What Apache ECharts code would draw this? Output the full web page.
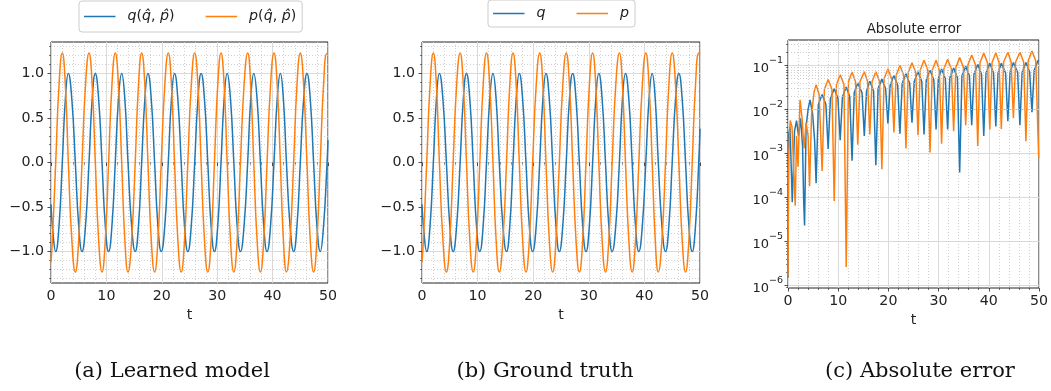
<!DOCTYPE html>
<html><head><meta charset="utf-8">
<script src="https://cdn.jsdelivr.net/npm/echarts@6/dist/echarts.min.js"></script>
<style>html,body{margin:0;padding:0;background:#fff}#c{width:1051px;height:391px}</style>
</head><body><div id="c"></div>
<script>
// ---- data ----
const t = [0, 0.25, 0.85, 1.45, 2.04, 2.59, 3.13, 3.76, 4.39, 5.0, 5.6, 6.23, 6.86, 7.43, 8.0, 8.6, 9.21, 9.8, 10.4, 11.0, 11.6, 12.18, 12.76, 13.33, 13.9, 14.55, 15.2, 15.79, 16.37, 16.94, 17.5, 18.1, 18.7, 19.3, 19.9, 20.54, 21.17, 21.74, 22.3, 22.9, 23.5, 24.1, 24.7, 25.32, 25.94, 26.52, 27.1, 27.7, 28.3, 28.9, 29.5, 30.1, 30.69, 31.25, 31.8, 32.4, 33.0, 33.6, 34.2, 34.85, 35.5, 36.05, 36.6, 37.2, 37.8, 38.4, 39.0, 39.63, 40.25, 40.83, 41.4, 41.95, 42.5, 43.15, 43.8, 44.4, 45.0, 45.6, 46.2, 46.8, 47.4, 48.0, 48.6, 49.19, 49.77, 50];

const qTrue = [-0.47, -0.71,
  -1, -0.71, 0, 0.71, 1, 0.71, 0, -0.71,
  -1, -0.71, 0, 0.71, 1, 0.71, 0, -0.71,
  -1, -0.71, 0, 0.71, 1, 0.71, 0, -0.71,
  -1, -0.71, 0, 0.71, 1, 0.71, 0, -0.71,
  -1, -0.71, 0, 0.71, 1, 0.71, 0, -0.71,
  -1, -0.71, 0, 0.71, 1, 0.71, 0, -0.71,
  -1, -0.71, 0, 0.71, 1, 0.71, 0, -0.71,
  -1, -0.71, 0, 0.71, 1, 0.71, 0, -0.71,
  -1, -0.71, 0, 0.71, 1, 0.71, 0, -0.71,
  -1, -0.71, 0, 0.71, 1, 0.71, 0, -0.71,
  -1, -0.71, 0, 0.38];
const pTrue = [-1.12, -0.87,
  0, 0.87, 1.23, 0.87, 0, -0.87, -1.23, -0.87,
  0, 0.87, 1.23, 0.87, 0, -0.87, -1.23, -0.87,
  0, 0.87, 1.23, 0.87, 0, -0.87, -1.23, -0.87,
  0, 0.87, 1.23, 0.87, 0, -0.87, -1.23, -0.87,
  0, 0.87, 1.23, 0.87, 0, -0.87, -1.23, -0.87,
  0, 0.87, 1.23, 0.87, 0, -0.87, -1.23, -0.87,
  0, 0.87, 1.23, 0.87, 0, -0.87, -1.23, -0.87,
  0, 0.87, 1.23, 0.87, 0, -0.87, -1.23, -0.87,
  0, 0.87, 1.23, 0.87, 0, -0.87, -1.23, -0.87,
  0, 0.87, 1.23, 0.87, 0, -0.87, -1.23, -0.87,
  0, 0.87, 1.23, 1.21];
const qLearned = [-0.47, -0.71,
  -1, -0.71, 0, 0.71, 1, 0.71, 0, -0.71,
  -1, -0.71, 0, 0.71, 1, 0.71, 0, -0.71,
  -1, -0.71, 0, 0.71, 1, 0.71, 0, -0.71,
  -1, -0.71, 0, 0.71, 1, 0.71, 0, -0.71,
  -1, -0.71, 0, 0.71, 1, 0.71, 0, -0.71,
  -1, -0.71, 0, 0.71, 1, 0.71, 0, -0.71,
  -1, -0.71, 0, 0.71, 1, 0.71, 0, -0.71,
  -1, -0.71, 0, 0.71, 1, 0.71, 0, -0.71,
  -1, -0.71, 0, 0.71, 1, 0.71, 0, -0.71,
  -1, -0.71, 0, 0.71, 1, 0.71, 0, -0.71,
  -1, -0.72, -0.08, 0.25];
const pLearned = [-1.12, -0.87,
  0, 0.87, 1.23, 0.87, 0, -0.87, -1.23, -0.87,
  0, 0.87, 1.23, 0.87, 0, -0.87, -1.23, -0.87,
  0, 0.87, 1.23, 0.87, 0, -0.87, -1.23, -0.87,
  0, 0.87, 1.23, 0.87, 0, -0.87, -1.23, -0.87,
  0, 0.87, 1.23, 0.87, 0, -0.87, -1.23, -0.87,
  0, 0.87, 1.23, 0.87, 0, -0.87, -1.23, -0.87,
  0, 0.87, 1.23, 0.87, 0, -0.87, -1.23, -0.87,
  0, 0.87, 1.23, 0.87, 0, -0.87, -1.23, -0.87,
  0, 0.87, 1.23, 0.87, 0, -0.87, -1.23, -0.87,
  0, 0.87, 1.23, 0.87, 0, -0.87, -1.23, -0.87,
  0, 0.86, 1.22, 1.22];

const errQ = [[0,1.5e-6],[0.1,2.5e-3],[0.4,4e-3],[0.85,7.8e-5],[1.3,3.2e-3],[1.7,5.6e-3],[2.1,2.5e-3],[2.5,6.3e-3],[2.9,1.5e-3],[3.13,7.8e-5],[3.3,2.3e-5],[3.6,4e-3],[4.0,1e-2],[4.4,1.66e-2],[4.9,8e-3],[5.3,2e-3],[5.6,2.1e-4],[6.05,1.3e-2],[6.8,2.19e-2],[7.55,1.3e-2],[8.0,1.26e-3],[8.45,1.77e-2],[9.21,2.95e-2],[9.95,1.77e-2],[10.4,2.0e-3],[10.85,1.94e-2],[11.6,3.24e-2],[12.3,1.94e-2],[12.76,6.8e-4],[13.2,2.39e-2],[13.9,3.98e-2],[14.75,2.39e-2],[15.2,2.5e-3],[15.65,2.62e-2],[16.3,4.37e-2],[17.05,2.62e-2],[17.5,5.4e-4],[17.95,2.94e-2],[18.7,4.9e-2],[19.45,2.94e-2],[19.9,4.8e-3],[20.35,3.53e-2],[21.1,5.89e-2],[21.85,3.53e-2],[22.3,2.8e-3],[22.75,3.88e-2],[23.5,6.46e-2],[24.25,3.88e-2],[24.7,5.0e-3],[25.15,4.34e-2],[25.9,7.24e-2],[26.65,4.34e-2],[27.1,2.7e-3],[27.55,4.66e-2],[28.3,7.76e-2],[29.05,4.66e-2],[29.5,3.5e-3],[29.95,5.0e-2],[30.6,8.32e-2],[31.35,5.0e-2],[31.8,3.5e-3],[32.25,5.23e-2],[33.0,8.71e-2],[33.75,5.23e-2],[34.2,3.7e-4],[34.65,5.73e-2],[35.4,9.55e-2],[36.15,5.73e-2],[36.6,4.4e-3],[37.05,6.3e-2],[37.8,0.105],[38.55,6.3e-2],[39.0,2.5e-3],[39.45,6.72e-2],[40.2,0.112],[40.95,6.72e-2],[41.4,4.1e-3],[41.85,6.72e-2],[42.5,0.112],[43.35,6.72e-2],[43.8,5.4e-3],[44.25,7.02e-2],[44.9,0.117],[45.75,7.02e-2],[46.2,4.4e-3],[46.65,7.02e-2],[47.4,0.117],[48.15,7.02e-2],[48.6,8.7e-3],[49.05,7.74e-2],[49.8,0.129],[50,0.126]];

const errP = [[0,1.6e-6],[0.15,1e-3],[0.45,5.6e-3],[0.8,4e-3],[1.1,6e-4],[1.44,6.5e-5],[1.7,2.5e-3],[2.0,5e-4],[2.4,1.66e-2],[2.8,6.3e-3],[3.2,1.3e-3],[3.6,5e-3],[4.0,2.5e-3],[4.3,1.8e-4],[4.7,8e-3],[5.2,2.5e-2],[5.6,3.63e-2],[6.2,2.2e-2],[6.8,4e-4],[7.25,2.87e-2],[8.0,4.79e-2],[8.75,2.87e-2],[9.21,8.3e-5],[9.65,3.7e-2],[10.4,6.17e-2],[11.15,3.7e-2],[11.6,2.6e-6],[12.05,4.25e-2],[12.76,7.08e-2],[13.45,4.25e-2],[13.9,1.58e-3],[14.35,4.34e-2],[15.2,7.24e-2],[15.85,4.34e-2],[16.3,2.7e-3],[16.75,4.34e-2],[17.5,7.24e-2],[18.25,4.34e-2],[18.7,4.4e-4],[19.15,4.99e-2],[19.9,8.32e-2],[20.65,4.99e-2],[21.1,3.0e-3],[21.55,6e-2],[22.3,0.1],[23.05,6e-2],[23.5,1.29e-3],[23.95,6.9e-2],[24.7,0.115],[25.45,6.9e-2],[25.9,2.6e-3],[26.35,7.9e-2],[27.1,0.132],[27.85,7.9e-2],[28.3,1.05e-3],[28.75,7.9e-2],[29.5,0.132],[30.15,7.9e-2],[30.6,1.66e-3],[31.05,8.3e-2],[31.8,0.138],[32.55,8.3e-2],[33.0,3.2e-3],[33.45,9.06e-2],[34.2,0.151],[34.95,9.06e-2],[35.4,4.4e-3],[35.85,0.104],[36.6,0.174],[37.35,0.104],[37.8,1.48e-3],[38.25,0.115],[39.0,0.191],[39.75,0.115],[40.2,3.5e-3],[40.65,0.117],[41.4,0.195],[42.05,0.117],[42.5,3.6e-3],[42.95,0.12],[43.8,0.2],[44.45,0.12],[44.9,6.3e-3],[45.35,0.12],[46.2,0.2],[46.95,0.12],[47.4,1.9e-3],[47.85,0.128],[48.6,0.214],[49.35,0.128],[49.95,7.9e-4]];

const linTicks = [-1, -0.5, 0, 0.5, 1];
const logTicks = [1e-6, 1e-5, 1e-4, 1e-3, 1e-2, 1e-1];
const legendA = ['q(q\u0302, p\u0302)', 'p(q\u0302, p\u0302)'];
const legendB = ['q', 'p'];
const errNames = ['|Δq|', '|Δp|'];
const titleC = 'Absolute error';
const captions = ['(a) Learned model', '(b) Ground truth', '(c) Absolute error'];

// ---- helpers (axis decorations only) ----
const logMinor = [];
for (let e = -7; e <= -1; e++) for (let m = 2; m <= 9; m++) {
  const v = m * Math.pow(10, e);
  if (v > 8.7e-7 && v < 0.38) logMinor.push(v);
}
const zip = (xs, ys) => xs.map((x, i) => [x, ys[i]]);
const FONT = 'DejaVu Sans';
const INK = '#222';
const BLUE = '#1f77b4', ORANGE = '#ff7f0e';
const majorGrid = { show: true, lineStyle: { color: '#dadada', width: 1 } };
const minorGrid = { show: true, lineStyle: { color: '#c4c4c4', width: 0.8, type: [1, 2] } };
const fmtLin = v => (v < 0 ? '\u2212' : '') + Math.abs(v).toFixed(1);
const fmtLog = v => { const e = Math.round(Math.log10(v)); return '{b|10}{s|\u2212' + (-e) + '}'; };

function xAx(gi) {
  return {
    gridIndex: gi, type: 'value', min: 0, max: 50, interval: 10,
    name: 't', nameLocation: 'middle', nameGap: 24,
    nameTextStyle: { fontFamily: FONT, fontSize: 14.2, color: INK },
    axisLine: { show: false },
    axisTick: { show: true, length: 3.5, lineStyle: { color: INK, width: 0.8 } },
    minorTick: { show: true, splitNumber: 5, length: 2, lineStyle: { color: INK, width: 0.6 } },
    axisLabel: { fontFamily: FONT, fontSize: 14.2, color: INK, margin: 6 },
    splitLine: majorGrid, minorSplitLine: minorGrid
  };
}
function yLin(gi) {
  return {
    gridIndex: gi, type: 'value', min: -1.353, max: 1.353, splitNumber: 5,
    axisLine: { show: false },
    axisTick: { show: true, length: 3.5, customValues: linTicks, lineStyle: { color: INK, width: 0.8 } },
    minorTick: { show: true, splitNumber: 5, length: 2, lineStyle: { color: INK, width: 0.6 } },
    axisLabel: { fontFamily: FONT, fontSize: 14.2, color: INK, margin: 7, customValues: linTicks, formatter: fmtLin },
    splitLine: majorGrid, minorSplitLine: minorGrid
  };
}
const gridStyle = { show: true, borderColor: INK, borderWidth: 1, backgroundColor: '#fff', containLabel: false };
const lineS = (name, xi, data, color) => ({
  name, type: 'line', xAxisIndex: xi, yAxisIndex: xi, data, smooth: true, showSymbol: false,
  symbol: 'none', lineStyle: { color, width: 1.5 }, itemStyle: { color }, z: 3
});
const legendText = {
  fontFamily: FONT, fontSize: 14.2, color: INK, lineHeight: 19, padding: [0, 0, 0, 7],
  rich: { i: { fontFamily: FONT, fontStyle: 'italic', fontSize: 14.2, color: INK, lineHeight: 19 },
          n: { fontFamily: FONT, fontSize: 14.2, color: INK, lineHeight: 19 } }
};
const legendBase = {
  orient: 'horizontal', icon: 'rect', itemWidth: 31.5, itemHeight: 1.5, itemGap: 31,
  borderColor: '#cccccc', borderWidth: 1, borderRadius: 3, backgroundColor: '#fff',
  textStyle: legendText, selectedMode: false
};

const chart = echarts.init(document.getElementById('c'), null, { renderer: 'canvas' });
chart.setOption({
  animation: false,
  backgroundColor: '#fff',
  grid: [
    Object.assign({ left: 51, top: 42, width: 277, height: 241 }, gridStyle),
    Object.assign({ left: 422, top: 42, width: 278, height: 241 }, gridStyle),
    Object.assign({ left: 788, top: 40, width: 252, height: 248 }, gridStyle)
  ],
  xAxis: [xAx(0), xAx(1), Object.assign(xAx(2), { nameGap: 23 })],
  yAxis: [
    yLin(0), yLin(1),
    {
      gridIndex: 2, type: 'log', logBase: 10, min: 8.7e-7, max: 0.38, position: 'left',
      axisLine: { show: false },
      axisTick: { show: true, length: 3.5, customValues: logTicks, lineStyle: { color: INK, width: 0.8 } },
      minorTick: { show: false },
      axisLabel: {
        customValues: logTicks, formatter: fmtLog, margin: 5, color: INK,
        rich: {
          b: { fontFamily: FONT, fontSize: 13, color: INK, lineHeight: 20, verticalAlign: 'bottom' },
          s: { fontFamily: FONT, fontSize: 9.5, color: INK, lineHeight: 20, verticalAlign: 'top', padding: [0, 0, 8, 0] }
        }
      },
      splitLine: majorGrid, minorSplitLine: { show: false }
    },
    {
      gridIndex: 2, type: 'log', logBase: 10, min: 8.7e-7, max: 0.38, position: 'left', offset: 0,
      axisLine: { show: false }, axisLabel: { show: false }, splitLine: { show: false },
      axisTick: { show: true, length: 2, customValues: logMinor, lineStyle: { color: INK, width: 0.6 } }
    }
  ],
  legend: [
    Object.assign({}, legendBase, {
      left: 79, top: 1, padding: [6, 6, 6, 5], data: legendA,
      formatter: n => '{i|' + n.charAt(0) + '}{n|(}{i|q\u0302}{n|, }{i|p\u0302}{n|)}'
    }),
    Object.assign({}, legendBase, {
      left: 488, top: 0, padding: [4, 6, 4, 5], data: legendB,
      formatter: n => '{i|' + n + '}'
    })
  ],
  graphic: [
    { type: 'text', x: 914, y: 30, style: { text: titleC, font: '13.3px "DejaVu Sans"', fill: INK, textAlign: 'center', textVerticalAlign: 'middle' } },
    { type: 'text', x: 172, y: 372, style: { text: captions[0], font: '21px "DejaVu Serif"', fill: '#111', textAlign: 'center', textVerticalAlign: 'middle' } },
    { type: 'text', x: 545, y: 372, style: { text: captions[1], font: '21px "DejaVu Serif"', fill: '#111', textAlign: 'center', textVerticalAlign: 'middle' } },
    { type: 'text', x: 920, y: 372, style: { text: captions[2], font: '21px "DejaVu Serif"', fill: '#111', textAlign: 'center', textVerticalAlign: 'middle' } }
  ],
  series: [
    lineS(legendA[0], 0, zip(t, qLearned), BLUE),
    lineS(legendA[1], 0, zip(t, pLearned), ORANGE),
    lineS(legendB[0], 1, zip(t, qTrue), BLUE),
    lineS(legendB[1], 1, zip(t, pTrue), ORANGE),
    {
      name: 'minor-grid', type: 'line', xAxisIndex: 2, yAxisIndex: 2, data: [], z: 1, silent: true,
      markLine: {
        silent: true, symbol: ['none', 'none'], label: { show: false }, animation: false,
        lineStyle: { color: '#c4c4c4', width: 0.8, type: [1, 2] },
        data: logMinor.map(v => ({ yAxis: v }))
      }
    },
    Object.assign(lineS(errNames[0], 2, errQ, BLUE), { smooth: false }),
    Object.assign(lineS(errNames[1], 2, errP, ORANGE), { smooth: false })
  ]
});
</script>
</body></html>
